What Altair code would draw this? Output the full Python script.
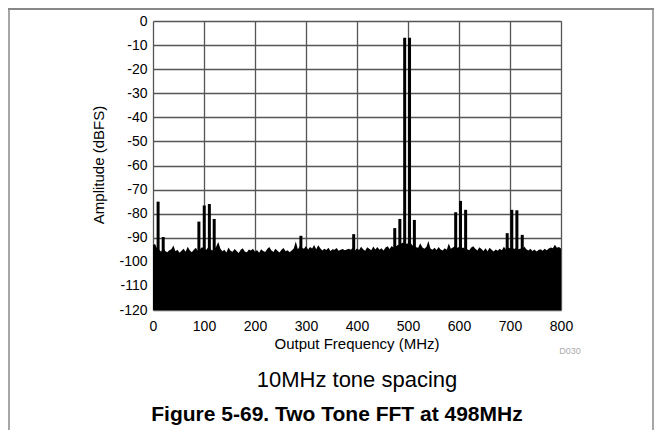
import altair as alt
import pandas as pd

# Noise floor envelope (top of the black fill), every 4 MHz from 0 to 800 MHz
noise_freq = list(range(0, 801, 4))
noise_db = [
    -93.0, -92.6, -94.5, -95.0, -95.8, -94.0, -95.5, -96.0, -95.2, -94.8,
    -93.2, -95.6, -95.0, -96.2, -95.4, -94.6, -95.8, -93.7, -95.2, -96.0,
    -95.0, -94.2, -95.5, -94.8, -93.9, -94.4, -95.1, -94.0, -94.6, -95.3,
    -94.8, -93.6, -91.8, -94.5, -95.6, -95.0, -96.1, -94.0, -95.4, -95.8,
    -94.7, -95.5, -96.3, -95.0, -94.4, -95.7, -96.0, -94.9, -95.3, -94.6,
    -95.8, -95.1, -96.2, -94.8, -95.5, -95.9, -94.7, -93.8, -95.2, -95.9,
    -94.6, -95.4, -96.1, -95.0, -94.3, -95.6, -95.2, -96.0, -95.3, -94.5,
    -91.6, -94.8, -93.5, -94.2, -94.6, -93.4, -94.9, -93.8, -94.5, -93.0,
    -94.8, -93.1, -94.4, -95.3, -94.6, -95.1, -94.2, -95.5, -94.8, -95.0,
    -94.3, -95.4, -95.0, -94.7, -95.2, -94.9, -94.6, -95.0, -94.0, -95.3,
    -94.5, -95.1, -93.7, -94.8, -95.4, -93.9, -94.6, -95.2, -93.6, -94.9,
    -93.8, -95.0, -94.4, -95.3, -94.1, -93.5, -94.7, -93.4, -94.2, -93.6,
    -93.0, -92.8, -92.2, -92.0, -92.5, -92.4, -91.8, -93.0, -93.5, -93.9,
    -94.2, -92.3, -93.9, -94.6, -93.8, -91.4, -94.5, -95.0, -94.2, -95.1,
    -93.8, -94.9, -95.3, -94.4, -95.0, -92.4, -94.6, -94.0, -93.5, -94.3,
    -93.8, -94.5, -94.0, -94.6, -94.8, -95.2, -94.1, -93.5, -94.6, -95.3,
    -93.9, -94.7, -95.5, -94.4, -95.6, -94.2, -95.0, -95.7, -94.9, -95.4,
    -94.6, -95.2, -93.7, -94.8, -94.0, -94.4, -94.1, -94.7, -94.3, -94.9,
    -94.5, -95.0, -93.6, -94.8, -95.3, -94.6, -95.5, -94.9, -95.7, -95.1,
    -94.8, -95.4, -94.6, -95.2, -94.5, -94.0, -94.4, -92.9, -94.2, -93.8,
    -94.5,
]

# Discrete spurs and the two tones
spur_freq = [10, 20, 90, 100.5, 110.5, 120, 290, 393.5, 474, 484, 493.5, 503,
             512.5, 593.5, 603, 613, 694.5, 703.5, 713.5, 724]
spur_db = [-75.0, -89.7, -83.3, -76.6, -76.0, -82.2, -89.2, -88.5, -86.0, -82.2,
           -7.0, -7.0, -82.6, -79.4, -74.7, -78.4, -88.1, -78.4, -78.6, -88.8]

x_ticks = [0, 100, 200, 300, 400, 500, 600, 700, 800]
y_ticks = [0, -10, -20, -30, -40, -50, -60, -70, -80, -90, -100, -110, -120]

FONT = "Liberation Sans"

noise_df = pd.DataFrame({"f": noise_freq, "db": noise_db})
spur_df = pd.DataFrame({"f": spur_freq, "db": spur_db})

xscale = alt.Scale(domain=[0, 800], nice=False, zero=False)
yscale = alt.Scale(domain=[-120, 0], nice=False, zero=False)

xaxis = alt.Axis(values=x_ticks, title=None, grid=True, ticks=False, domain=False,
                 labelFontSize=14, labelPadding=9, labelFont=FONT, labelColor="black",
                 gridColor="#555555", gridWidth=1.3, labelFlush=False,
                 labelOverlap=False, labelExpr="'' + datum.value")
yaxis = alt.Axis(values=y_ticks, title=None, grid=True, ticks=False, domain=False,
                 labelFontSize=14, labelPadding=6, labelFont=FONT, labelColor="black",
                 gridColor="#555555", gridWidth=1.3, labelFlush=False,
                 labelOverlap=False, labelExpr="'' + datum.value")

noise = alt.Chart(noise_df).mark_area(color="black", opacity=1).encode(
    x=alt.X("f:Q", scale=xscale, axis=xaxis),
    y=alt.Y("db:Q", scale=yscale, axis=yaxis),
    y2=alt.datum(-120),
)

spurs = alt.Chart(spur_df).mark_rule(color="black", strokeWidth=3).encode(
    x=alt.X("f:Q", scale=xscale, axis=xaxis),
    y=alt.Y("db:Q", scale=yscale, axis=yaxis),
    y2=alt.datum(-120),
)

one = alt.Data(values=[{}])

def label(text, x, y, size, weight="normal", color="black", angle=0):
    return alt.Chart(one).mark_text(
        text=text, font=FONT, fontSize=size, fontWeight=weight, color=color,
        align="center", baseline="middle", angle=angle,
    ).encode(x=alt.value(x), y=alt.value(y))

ytitle = label("Amplitude (dBFS)", -54, 144, 15, angle=270)
xtitle = label("Output Frequency (MHz)", 204, 323, 15)
code = label("D030", 417, 330, 9, color="#aaaaaa")
sub = label("10MHz tone spacing", 204, 359, 22)
fig = label("Figure 5-69. Two Tone FFT at 498MHz", 184, 394, 21, weight="bold")

frame_top = alt.Chart(one).mark_rule(color="#888888", strokeWidth=2).encode(
    x=alt.value(-145), x2=alt.value(501), y=alt.value(-12))
frame_left = alt.Chart(one).mark_rule(color="#888888", strokeWidth=1.5).encode(
    x=alt.value(-144), y=alt.value(-12), y2=alt.value(420))
frame_right = alt.Chart(one).mark_rule(color="#888888", strokeWidth=1.5).encode(
    x=alt.value(500), y=alt.value(-12), y2=alt.value(420))

chart = alt.layer(
    noise, spurs, ytitle, xtitle, code, sub, fig, frame_top, frame_left, frame_right
).properties(
    width=408, height=289,
    autosize=alt.AutoSizeParams(type="none"),
    padding={"left": 145, "top": 13, "right": 93, "bottom": 120},
).configure_view(
    stroke="black", strokeWidth=2.5
).configure(background="white")

chart.save("out.html", embed_options={"renderer": "svg", "actions": False})
